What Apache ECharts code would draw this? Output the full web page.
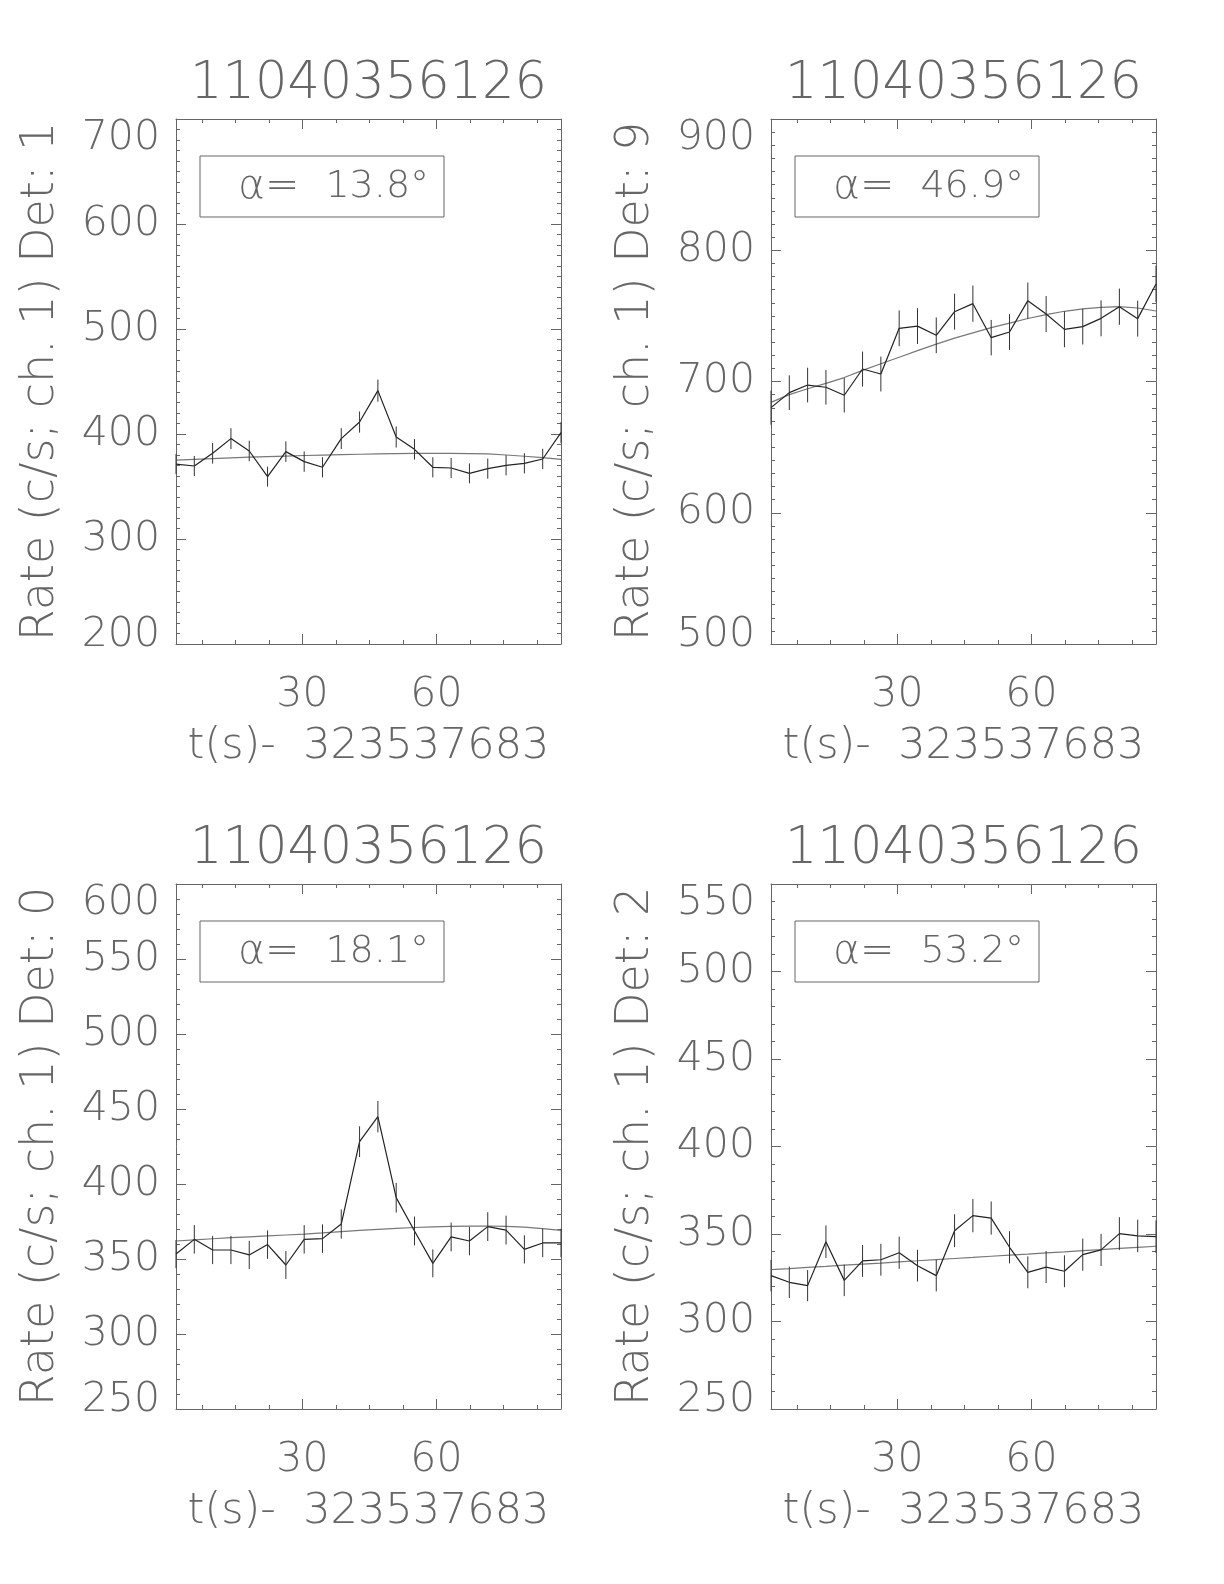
<!DOCTYPE html>
<html>
<head>
<meta charset="utf-8">
<script src="https://cdn.jsdelivr.net/npm/echarts@6/dist/echarts.min.js"></script>
<style>
html,body{margin:0;padding:0;background:#fff;}
#chart{width:1224px;height:1584px;}
</style>
</head>
<body>
<div id="chart"></div>
<script>
// ---------- data ----------
const t = [1.7, 5.8, 9.9, 14.0, 18.1, 22.2, 26.3, 30.4, 34.5, 38.7, 42.8, 46.9, 51.0, 55.1, 59.2, 63.3, 67.4, 71.5, 75.6, 79.7, 83.8, 87.9];
const xMin = 1.7, xMax = 87.9;
const xMajorTicks = [30, 60];
const xMinorTicks = [7.5, 15, 22.5, 37.5, 45, 52.5, 67.5, 75, 82.5];
const titles = ['11040356126', '11040356126', '11040356126', '11040356126'];
const alphaValues = ['13.8°', '46.9°', '18.1°', '53.2°'];
const yNames = ['Rate (c/s; ch. 1) Det: 1', 'Rate (c/s; ch. 1) Det: 9', 'Rate (c/s; ch. 1) Det: 0', 'Rate (c/s; ch. 1) Det: 2'];
const xName = 't(s)-  323537683';
const yMins = [200, 500, 250, 250];
const yMaxs = [700, 900, 600, 550];
const yIntervals = [100, 100, 50, 50];
const yMinorSplits = [10, 10, 5, 5];

const rate1 = [371.4, 369.5, 381.6, 395.6, 383.8, 359.4, 383.2, 373.7, 368.3, 395.6, 411.4, 441.3, 397.1, 385.4, 368.3, 367.6, 362.5, 367.0, 370.2, 372.1, 376.2, 401.3];
const err1  = [9.6, 9.6, 9.8, 9.9, 9.8, 9.5, 9.8, 9.7, 9.6, 9.9, 10.1, 10.5, 10.0, 9.8, 9.6, 9.6, 9.5, 9.6, 9.6, 9.6, 9.7, 10.0];
const fit1  = [375.2, 375.9, 376.6, 377.3, 377.9, 378.5, 379.0, 379.5, 379.9, 380.3, 380.7, 381.0, 381.3, 381.5, 381.6, 381.6, 381.4, 381.0, 380.0, 378.8, 377.5, 375.9];

const rate2 = [680.1, 691.5, 697.3, 695.6, 689.5, 709.5, 705.7, 740.5, 742.2, 735.2, 753.2, 759.3, 733.4, 737.7, 761.6, 751.4, 739.7, 741.8, 748.1, 757.0, 747.9, 774.3];
const err2  = [13.0, 13.2, 13.2, 13.2, 13.1, 13.3, 13.3, 13.6, 13.6, 13.6, 13.7, 13.8, 13.5, 13.6, 13.8, 13.7, 13.6, 13.6, 13.7, 13.8, 13.7, 13.9];
const fit2  = [684.1, 690.0, 694.5, 698.6, 703.0, 708.5, 713.5, 718.5, 723.5, 728.5, 733.0, 737.0, 741.0, 744.5, 748.0, 751.0, 753.5, 755.3, 756.5, 757.0, 756.0, 753.7];

const rate3 = [353.3, 363.1, 356.0, 356.0, 352.7, 359.6, 346.0, 363.1, 363.6, 373.3, 428.2, 444.9, 390.9, 368.7, 347.1, 364.7, 362.0, 371.6, 369.3, 356.4, 360.7, 360.7];
const err3  = [9.4, 9.5, 9.4, 9.4, 9.4, 9.5, 9.3, 9.5, 9.5, 9.7, 10.3, 10.5, 9.9, 9.6, 9.3, 9.6, 9.5, 9.6, 9.6, 9.4, 9.5, 9.5];
const fit3  = [362.0, 362.8, 363.5, 364.2, 364.8, 365.4, 366.0, 366.6, 367.4, 368.3, 369.1, 369.8, 370.4, 371.0, 371.4, 371.7, 371.9, 372.0, 371.8, 371.2, 370.3, 369.1];

const rate4 = [326.2, 322.4, 320.5, 345.6, 323.5, 334.6, 335.3, 339.3, 331.9, 326.2, 351.9, 360.5, 359.1, 342.4, 328.1, 331.1, 328.7, 338.2, 340.9, 350.2, 348.9, 348.5];
const err4  = [9.0, 9.0, 8.9, 9.3, 9.0, 9.1, 9.1, 9.2, 9.1, 9.0, 9.4, 9.5, 9.5, 9.2, 9.1, 9.1, 9.1, 9.2, 9.2, 9.4, 9.3, 9.3];
const fit4  = [329.6, 330.2, 330.9, 331.5, 332.2, 332.8, 333.4, 334.1, 334.7, 335.4, 336.0, 336.6, 337.3, 337.9, 338.5, 339.2, 339.8, 340.5, 341.1, 341.8, 342.4, 343.0];

const rates = [rate1, rate2, rate3, rate4];
const errs = [err1, err2, err3, err4];
const fits = [fit1, fit2, fit3, fit4];

// ---------- layout / style ----------
const grids = [
  {left: 176, top: 119, width: 385, height: 525},
  {left: 771, top: 119, width: 385, height: 525},
  {left: 176, top: 884, width: 385, height: 525},
  {left: 771, top: 884, width: 385, height: 525}
];
const FONT = '"DejaVu Sans", sans-serif';
const FW = 200;
const TXT = '#666';
const AX = '#666';

const option = {
  backgroundColor: '#fff',
  animation: false,
  grid: [], xAxis: [], yAxis: [], series: [], graphic: []
};

grids.forEach((g, k) => {
  option.grid.push({left: g.left, top: g.top, width: g.width, height: g.height, containLabel: false, show: false});
  const xb = k * 4;
  const common = {type: 'value', gridIndex: k, min: xMin, max: xMax, splitLine: {show: false}};
  option.xAxis.push(Object.assign({}, common, {
    position: 'bottom',
    axisLine: {show: true, onZero: false, lineStyle: {color: AX, width: 1}},
    axisTick: {show: true, inside: true, length: 10, customValues: xMajorTicks, lineStyle: {color: AX}},
    axisLabel: {show: true, customValues: xMajorTicks, margin: 31, fontSize: 41, color: TXT, fontFamily: FONT, fontWeight: FW},
    name: xName, nameLocation: 'middle', nameGap: 81,
    nameTextStyle: {fontSize: 43, color: TXT, fontFamily: FONT, fontWeight: FW}
  }));
  option.xAxis.push(Object.assign({}, common, {
    position: 'bottom',
    axisLine: {show: false, onZero: false},
    axisTick: {show: true, inside: true, length: 4, customValues: xMinorTicks, lineStyle: {color: AX}},
    axisLabel: {show: false}
  }));
  option.xAxis.push(Object.assign({}, common, {
    position: 'top',
    axisLine: {show: true, onZero: false, lineStyle: {color: AX, width: 1}},
    axisTick: {show: true, inside: true, length: 10, customValues: xMajorTicks, lineStyle: {color: AX}},
    axisLabel: {show: false}
  }));
  option.xAxis.push(Object.assign({}, common, {
    position: 'top',
    axisLine: {show: false, onZero: false},
    axisTick: {show: true, inside: true, length: 4, customValues: xMinorTicks, lineStyle: {color: AX}},
    axisLabel: {show: false}
  }));
  const yb = k * 2;
  const yCommon = {type: 'value', gridIndex: k, min: yMins[k], max: yMaxs[k], interval: yIntervals[k],
    splitLine: {show: false}, minorSplitLine: {show: false},
    axisLine: {show: true, onZero: false, lineStyle: {color: AX, width: 1}},
    axisTick: {show: true, inside: true, length: 10, lineStyle: {color: AX}},
    minorTick: {show: true, splitNumber: yMinorSplits[k], length: 4, lineStyle: {color: AX}}
  };
  option.yAxis.push(Object.assign({}, yCommon, {
    position: 'left',
    axisLabel: {show: true, margin: 16, fontSize: 41, lineHeight: 14, padding: [12, 0, 2, 0],
      color: TXT, fontFamily: FONT, fontWeight: FW,
      verticalAlignMinLabel: 'bottom', verticalAlignMaxLabel: 'top'},
    name: yNames[k], nameLocation: 'middle', nameGap: 112, nameRotate: 90,
    nameTextStyle: {fontSize: 46, color: TXT, fontFamily: FONT, fontWeight: FW}
  }));
  option.yAxis.push(Object.assign({}, yCommon, {
    position: 'right',
    axisLabel: {show: false}
  }));

  const r = rates[k], e = errs[k], f = fits[k];
  option.series.push({
    type: 'line', xAxisIndex: xb, yAxisIndex: yb,
    data: t.map((x, i) => [x, f[i]]),
    showSymbol: false, smooth: false,
    lineStyle: {color: '#777', width: 1.2}, z: 2
  });
  option.series.push({
    type: 'line', xAxisIndex: xb, yAxisIndex: yb,
    data: t.map((x, i) => [x, r[i]]),
    showSymbol: false,
    lineStyle: {color: '#222', width: 1.2}, z: 3
  });
  option.series.push({
    type: 'custom', xAxisIndex: xb, yAxisIndex: yb,
    data: t.map((x, i) => [x, r[i] - e[i], r[i] + e[i]]),
    encode: {x: 0, y: [1, 2]},
    renderItem: function (params, api) {
      const p1 = api.coord([api.value(0), api.value(1)]);
      const p2 = api.coord([api.value(0), api.value(2)]);
      return {type: 'line', shape: {x1: p1[0], y1: p1[1], x2: p2[0], y2: p2[1]},
        style: {stroke: '#333', lineWidth: 1}};
    },
    z: 4
  });

  option.graphic.push({
    type: 'text', x: g.left + g.width / 2, y: g.top - 34,
    style: {text: titles[k], fontSize: 51, fill: TXT, fontFamily: FONT, fontWeight: FW,
      textAlign: 'center', textVerticalAlign: 'middle'}
  });
  option.graphic.push({
    type: 'rect', shape: {x: g.left + 24, y: g.top + 37, width: 244, height: 61},
    style: {fill: 'none', stroke: AX, lineWidth: 1}
  });
  option.graphic.push({
    type: 'text', x: g.left + 62, y: g.top + 68,
    style: {text: '{a|α}{b|=  }{c|' + alphaValues[k] + '}', fill: TXT, fontFamily: FONT, fontWeight: FW, fontSize: 41,
      textAlign: 'left', textVerticalAlign: 'middle',
      rich: {a: {fontSize: 41, fill: TXT, fontFamily: FONT, fontWeight: FW},
             b: {fontSize: 41, fill: TXT, fontFamily: FONT, fontWeight: FW},
             c: {fontSize: 38, fill: TXT, fontFamily: FONT, fontWeight: FW}}}
  });
});

const chart = echarts.init(document.getElementById('chart'), null, {renderer: 'canvas'});
chart.setOption(option);
</script>
</body>
</html>
